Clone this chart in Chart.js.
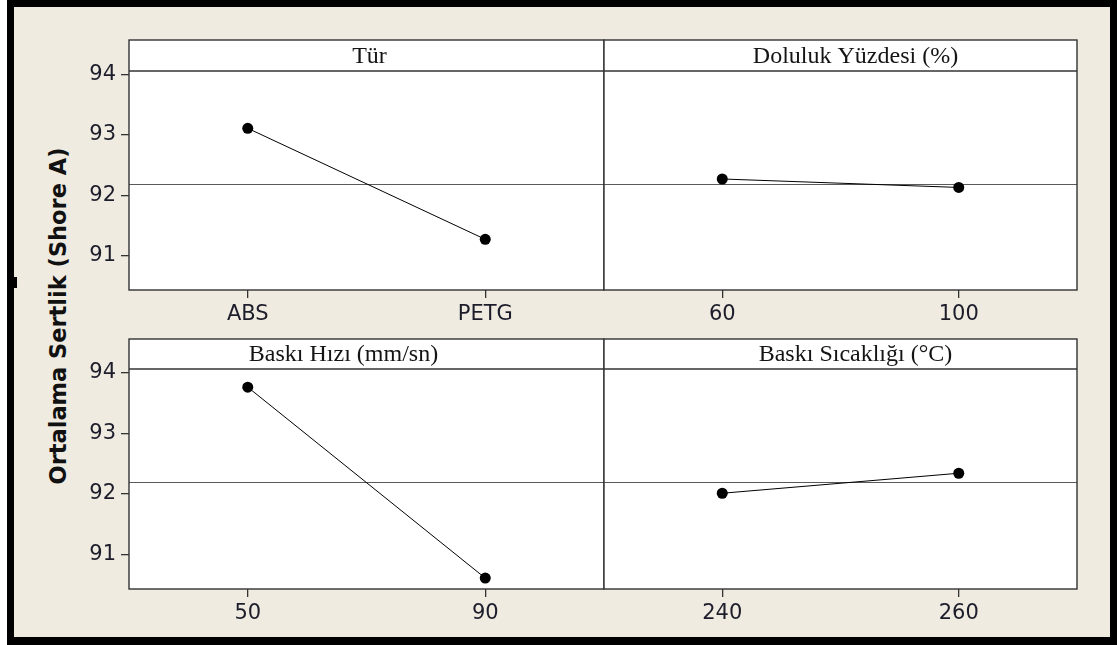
<!DOCTYPE html>
<html>
<head>
<meta charset="utf-8">
<title>Ortalama Sertlik - Ana Etkiler</title>
<script src="https://cdn.jsdelivr.net/npm/chart.js@4/dist/chart.umd.min.js"></script>
<style>
  html, body { margin: 0; padding: 0; background: #fff; }
  body { width: 1117px; height: 645px; position: relative; overflow: hidden; }
  #frame {
    position: absolute; left: 7px; top: 0; width: 1110px; height: 645px;
    box-sizing: border-box; border-style: solid; border-color: #000;
    border-width: 7px 7px 8px 7px; background: #efebe1;
  }
  #notch { position: absolute; left: 14px; top: 277px; width: 3px; height: 11px; background: #000; }
  canvas { position: absolute; }
  #ytitle {
    position: absolute; left: 58px; top: 316px;
    transform: translate(-50%, -50%) rotate(-90deg);
    font: bold 22.5px "DejaVu Sans", sans-serif; color: #111; white-space: nowrap;
  }
</style>
</head>
<body>
<div id="frame"></div>
<div id="notch"></div>
<div id="ytitle">Ortalama Sertlik (Shore A)</div>
<canvas id="c0"></canvas>
<canvas id="c1"></canvas>
<canvas id="c2"></canvas>
<canvas id="c3"></canvas>
<script>
// Factor levels and mean hardness for each level
const turLevels = ['ABS', 'PETG'];
const turMeans = [93.11, 91.27];

const dolulukLevels = ['60', '100'];
const dolulukMeans = [92.27, 92.13];

const hizLevels = ['50', '90'];
const hizMeans = [93.76, 90.61];

const sicaklikLevels = ['240', '260'];
const sicaklikMeans = [92.01, 92.34];

// Shared value axis and overall mean
const yTicks = [91, 92, 93, 94];
const grandMean = 92.19;

// Panel boxes in page pixels: strip top, strip bottom (plot top), plot bottom
const panels = [
  { title: 'Tür', labels: turLevels, values: turMeans,
    box: { left: 129, right: 604, top: 40, strip: 71, bottom: 290 }, yAxis: true, titleShift: 3 },
  { title: 'Doluluk Yüzdesi (%)', labels: dolulukLevels, values: dolulukMeans,
    box: { left: 604, right: 1077, top: 40, strip: 71, bottom: 290 }, yAxis: false, titleShift: 15 },
  { title: 'Baskı Hızı (mm/sn)', labels: hizLevels, values: hizMeans,
    box: { left: 129, right: 604, top: 339, strip: 369, bottom: 589 }, yAxis: true, titleShift: -23 },
  { title: 'Baskı Sıcaklığı (°C)', labels: sicaklikLevels, values: sicaklikMeans,
    box: { left: 604, right: 1077, top: 339, strip: 369, bottom: 589 }, yAxis: false, titleShift: 15 }
];

const Y_MIN = 90.43, Y_MAX = 94.06;
const AXIS_W = 110, AXIS_H = 48, EDGE = 4;
const LINE_COLOR = '#333';
const TICK_FONT = { family: '"DejaVu Sans", sans-serif', size: 21 };
const TICK_COLOR = '#1c1c2a';

// Draws white panel, header strip with title, frame and the overall-mean line
const panelFrame = {
  id: 'panelFrame',
  beforeDraw(chart, args, opts) {
    const { ctx, chartArea: a } = chart;
    const top = a.top - opts.stripHeight;
    ctx.save();
    ctx.fillStyle = '#fff';
    ctx.fillRect(a.left, top, a.right - a.left, a.bottom - top);
    ctx.restore();
  },
  beforeDatasetsDraw(chart, args, opts) {
    const { ctx, chartArea: a } = chart;
    const y = Math.round(chart.scales.y.getPixelForValue(opts.reference)) + 0.5;
    ctx.save();
    ctx.strokeStyle = '#5a5a5a';
    ctx.lineWidth = 1;
    ctx.beginPath();
    ctx.moveTo(a.left, y);
    ctx.lineTo(a.right, y);
    ctx.stroke();
    ctx.restore();
  },
  afterDraw(chart, args, opts) {
    const { ctx, chartArea: a } = chart;
    const top = a.top - opts.stripHeight;
    ctx.save();
    ctx.strokeStyle = LINE_COLOR;
    ctx.lineWidth = 1.4;
    ctx.strokeRect(a.left, top, a.right - a.left, a.bottom - top);
    ctx.beginPath();
    ctx.moveTo(a.left, a.top);
    ctx.lineTo(a.right, a.top);
    ctx.stroke();
    ctx.fillStyle = '#141414';
    ctx.font = '24px "Liberation Serif", "Times New Roman", serif';
    ctx.textAlign = 'center';
    ctx.textBaseline = 'middle';
    ctx.fillText(opts.title, (a.left + a.right) / 2 + opts.titleShift, (top + a.top) / 2 + 1);
    ctx.restore();
  }
};

panels.forEach((p, i) => {
  const b = p.box;
  const axisW = p.yAxis ? AXIS_W : 0;
  const cLeft = b.left - (p.yAxis ? AXIS_W : EDGE);
  const cTop = b.top - EDGE;
  const cRight = b.right + EDGE;
  const cBottom = b.bottom + AXIS_H;
  const canvas = document.getElementById('c' + i);
  canvas.style.left = cLeft + 'px';
  canvas.style.top = cTop + 'px';
  canvas.width = cRight - cLeft;
  canvas.height = cBottom - cTop;

  new Chart(canvas, {
    type: 'line',
    data: {
      labels: p.labels,
      datasets: [{
        data: p.values,
        borderColor: '#000',
        borderWidth: 1,
        pointRadius: 5.5,
        pointBackgroundColor: '#000',
        pointBorderWidth: 0,
        tension: 0,
        clip: false
      }]
    },
    options: {
      responsive: false,
      animation: false,
      events: [],
      layout: {
        autoPadding: false,
        padding: {
          left: p.yAxis ? 0 : EDGE,
          right: EDGE,
          top: EDGE + (b.strip - b.top),
          bottom: 0
        }
      },
      scales: {
        x: {
          type: 'category',
          offset: true,
          border: { display: false },
          grid: { offset: false, drawOnChartArea: false, drawTicks: true, tickLength: 8, color: LINE_COLOR, lineWidth: 1.3 },
          ticks: { font: TICK_FONT, color: TICK_COLOR, padding: 4, maxRotation: 0 },
          afterFit(scale) { scale.height = AXIS_H; }
        },
        y: {
          type: 'linear',
          display: p.yAxis,
          min: Y_MIN,
          max: Y_MAX,
          border: { display: false },
          grid: { drawOnChartArea: false, drawTicks: true, tickLength: 8, color: LINE_COLOR, lineWidth: 1.3 },
          ticks: { font: TICK_FONT, color: TICK_COLOR, padding: 5 },
          afterBuildTicks(scale) { scale.ticks = yTicks.map(v => ({ value: v })); },
          afterFit(scale) { scale.width = axisW; }
        }
      },
      plugins: {
        legend: { display: false },
        tooltip: { enabled: false },
        panelFrame: {
          title: p.title,
          titleShift: p.titleShift,
          stripHeight: b.strip - b.top,
          reference: grandMean
        }
      }
    },
    plugins: [panelFrame]
  });
});
</script>
</body>
</html>
